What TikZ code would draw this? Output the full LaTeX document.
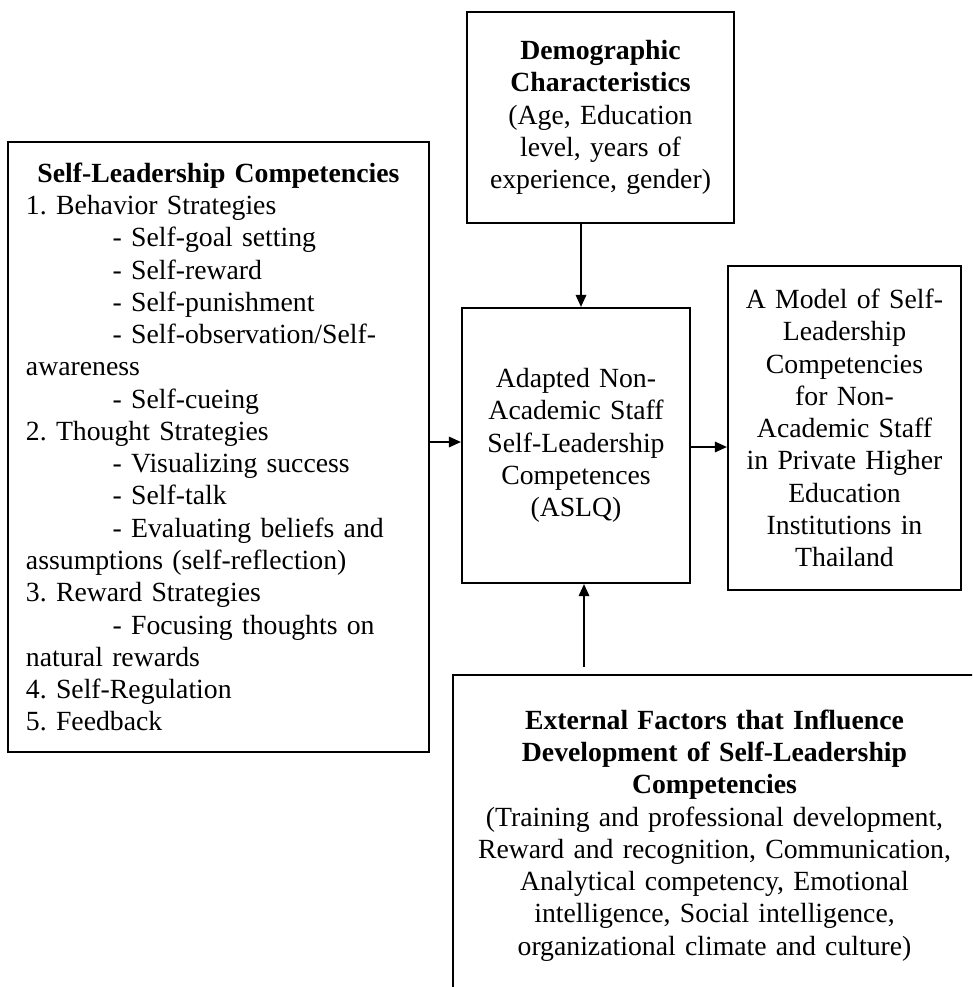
\documentclass[tikz,border=0pt]{standalone}
\usepackage{fontspec}
\setmainfont{Liberation Serif}
\usetikzlibrary{arrows.meta}
\setlength\parindent{0pt}
\frenchspacing
\newcommand\myfs{\fontsize{20.8}{24.2}\selectfont\frenchspacing}
\begin{document}
\begin{tikzpicture}[x=0.75pt,y=-0.75pt,
  box/.style={draw, line width=1.7pt, inner sep=0pt, font=\myfs},
  cbox/.style={box, align=center},
  arr/.style={-{Triangle[length=9pt,width=8pt]}, line width=0.9pt}]
\useasboundingbox (0,0) rectangle (972,987);
\clip (0,0) rectangle (972,987);

% left box
\node[box, align=left, minimum width=315.75pt, minimum height=457.5pt, text width=288.75pt]
  (slc) at (218.5,447) {%
\makebox[288.75pt][c]{\textbf{Self-Leadership Competencies}}\\
1. Behavior Strategies\\
\hspace*{65pt}- Self-goal setting\\
\hspace*{65pt}- Self-reward\\
\hspace*{65pt}- Self-punishment\\
\hspace*{65pt}- Self-observation/Self-\\
awareness\\
\hspace*{65pt}- Self-cueing\\
2. Thought Strategies\\
\hspace*{65pt}- Visualizing success\\
\hspace*{65pt}- Self-talk\\
\hspace*{65pt}- Evaluating beliefs and\\
assumptions (self-reflection)\\
3. Reward Strategies\\
\hspace*{65pt}- Focusing thoughts on\\
natural rewards\\
4. Self-Regulation\\
5. Feedback};

% demographic box
\node[cbox, minimum width=200.25pt, minimum height=158.25pt, text width=190pt]
  (demo) at (600.5,117.5) {%
\textbf{Demographic}\\
\textbf{Characteristics}\\
(Age, Education\\
level, years of\\
experience, gender)};

% center box
\node[cbox, minimum width=171pt, minimum height=206.25pt, text width=160pt]
  (aslq) at (576,445.5) {%
Adapted Non-\\
Academic Staff\\
Self-Leadership\\
Competences\\
(ASLQ)};

% right box
\node[cbox, minimum width=174.75pt, minimum height=243pt, text width=165pt]
  (model) at (844.5,428) {%
A Model of Self-\\
Leadership\\
Competencies\\
for Non-\\
Academic Staff\\
in Private Higher\\
Education\\
Institutions in\\
Thailand};

% bottom box (runs past the picture edges)
\node[cbox, minimum width=392.25pt, minimum height=240.75pt, text width=380pt]
  (ext) at (714.5,835.5) {%
\textbf{External Factors that Influence}\\
\textbf{Development of Self-Leadership}\\
\textbf{Competencies}\\
(Training and professional development,\\
Reward and recognition, Communication,\\
Analytical competency, Emotional\\
intelligence, Social intelligence,\\
organizational climate and culture)};

% connectors
\coordinate (dA) at (581,0);
\draw[arr] (demo.south -| dA) -- (aslq.north -| dA);
\coordinate (eA) at (584,667);
\draw[arr] (eA) -- (aslq.south -| eA);
\coordinate (lA) at (0,442);
\draw[arr] (slc.east |- lA) -- (aslq.west |- lA);
\coordinate (rA) at (0,447);
\draw[arr] (aslq.east |- rA) -- (model.west |- rA);
\end{tikzpicture}
\end{document}
